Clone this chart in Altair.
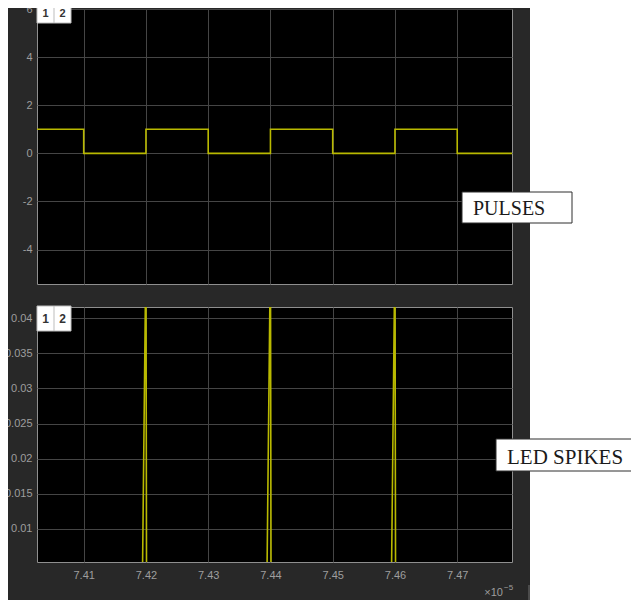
import altair as alt
import pandas as pd

# ---- data (time axis in units of 1e-5 s) ----
pulse_t = [7.40, 7.41, 7.42, 7.43, 7.44, 7.45, 7.46, 7.47, 7.48]
pulse_v = [1, 0, 1, 0, 1, 0, 1, 0, 0]

spike_t = [7.4000, 7.4194, 7.4200, 7.4201, 7.4394, 7.4400, 7.4401,
           7.4594, 7.4600, 7.4601, 7.4800]
spike_v = [0, 0, 0.05, 0, 0, 0.05, 0, 0, 0.05, 0, 0]

x_ticks = [7.41, 7.42, 7.43, 7.44, 7.45, 7.46, 7.47]
y1_ticks = [-4, -2, 0, 2, 4, 6]
y2_ticks = [0.01, 0.015, 0.02, 0.025, 0.03, 0.035, 0.04]
x_domain = [7.4025, 7.4788]
y1_domain = [-5.43, 6]
y2_domain = [0.0053, 0.0416]

label_top = "PULSES"
label_bottom = "LED SPIKES"

# ---- style ----
W = 475
H1 = 275
H2 = 255
YEL = "#b9b900"
FIG = "#282828"
LBL = "#9e9e9e"

df1 = pd.DataFrame({"t": pulse_t, "v": pulse_v})
df2 = pd.DataFrame({"t": spike_t, "v": spike_v})
one = pd.DataFrame({"k": [0]})

xs = alt.Scale(domain=x_domain, nice=False, zero=False)


def chip(y0, y1, ty, fs):
    base = alt.Chart(one)
    box = base.mark_rect(fill="white", stroke="#bdbdbd", strokeWidth=1).encode(
        x=alt.value(0), x2=alt.value(34), y=alt.value(y0), y2=alt.value(y1))
    div = base.mark_rule(color="#bdbdbd", strokeWidth=1).encode(
        x=alt.value(17), y=alt.value(y0), y2=alt.value(y1))
    t1 = base.mark_text(font="Liberation Sans", fontSize=fs, color="#333333",
                        fontWeight="bold", baseline="middle", align="center").encode(
        x=alt.value(8.5), y=alt.value(ty), text=alt.value("1"))
    t2 = base.mark_text(font="Liberation Sans", fontSize=fs, color="#333333",
                        fontWeight="bold", baseline="middle", align="center").encode(
        x=alt.value(25.5), y=alt.value(ty), text=alt.value("2"))
    return [box, div, t1, t2]


def label_box(x0, x1, y0, y1, tx, ty, txt, fs):
    base = alt.Chart(one)
    box = base.mark_rect(fill="white", stroke="#2f2f2f", strokeWidth=1).encode(
        x=alt.value(x0), x2=alt.value(x1), y=alt.value(y0), y2=alt.value(y1))
    t = base.mark_text(font="Liberation Serif", fontSize=fs, color="#1a1a1a",
                       baseline="middle", align="left").encode(
        x=alt.value(tx), y=alt.value(ty), text=alt.value(txt))
    return [box, t]


# ---- top panel: pulses ----
line1 = alt.Chart(df1).mark_line(color=YEL, strokeWidth=1.6,
                                 interpolate="step-after", clip=True).encode(
    x=alt.X("t:Q", scale=xs,
            axis=alt.Axis(values=x_ticks, labels=False, ticks=False,
                          domain=False, title=None)),
    y=alt.Y("v:Q", scale=alt.Scale(domain=y1_domain, nice=False, zero=False),
            axis=alt.Axis(values=y1_ticks, format="d", title=None,
                          labelExpr="replace(datum.label, '\u2212', '-')")),
)
white1 = alt.Chart(one).mark_rect(fill="white").encode(
    x=alt.value(W + 18), x2=alt.value(W + 200), y=alt.value(-20), y2=alt.value(H1 + 23))

top = alt.layer(
    line1, white1,
    *label_box(425, 535, 183, 214, 436, 199.5, label_top, 20),
    *chip(-11, 14, 5, 11),
).properties(width=W, height=H1)

# ---- bottom panel: spikes ----
line2 = alt.Chart(df2).mark_line(color=YEL, strokeWidth=1.6, clip=True).encode(
    x=alt.X("t:Q", scale=xs,
            axis=alt.Axis(values=x_ticks, format=".2f", title=None, labelPadding=7)),
    y=alt.Y("v:Q", scale=alt.Scale(domain=y2_domain, nice=False, zero=False),
            axis=alt.Axis(values=y2_ticks, format=".3~f", title=None)),
)
white2 = alt.Chart(one).mark_rect(fill="white").encode(
    x=alt.value(W + 18), x2=alt.value(W + 200), y=alt.value(-23), y2=alt.value(H2 + 60))
mark_tick = alt.Chart(one).mark_rule(color="#6e6e6e", strokeWidth=1).encode(
    x=alt.value(W + 17), y=alt.value(H2 + 23), y2=alt.value(H2 + 40))
exp_base = alt.Chart(one).mark_text(font="Liberation Sans", fontSize=11, color=LBL,
                                    align="right", baseline="middle").encode(
    x=alt.value(W - 9), y=alt.value(H2 + 31), text=alt.value("×10"))
exp_sup = alt.Chart(one).mark_text(font="Liberation Sans", fontSize=8, color=LBL,
                                   align="left", baseline="middle").encode(
    x=alt.value(W - 8), y=alt.value(H2 + 26), text=alt.value("−5"))

bottom = alt.layer(
    line2, white2, mark_tick, exp_base, exp_sup,
    *label_box(459, 640, 132, 164, 470, 151, label_bottom, 21),
    *chip(-1, 24, 12, 12),
).properties(width=W, height=H2)

chart = alt.vconcat(top, bottom, spacing=23, bounds="flush").properties(
    autosize=alt.AutoSizeParams(type="none"),
    padding={"left": 29, "top": 1, "right": 119, "bottom": 591},
).configure(background=FIG).configure_view(
    fill="black", stroke="#8f8f8f", strokeWidth=1
).configure_axis(
    grid=True, gridColor="#454545", gridWidth=1, domain=False, ticks=False,
    labelColor=LBL, labelFont="Liberation Sans", labelFontSize=11, labelPadding=5,
)

chart.save("out.html", embed_options={"renderer": "svg", "actions": False})
